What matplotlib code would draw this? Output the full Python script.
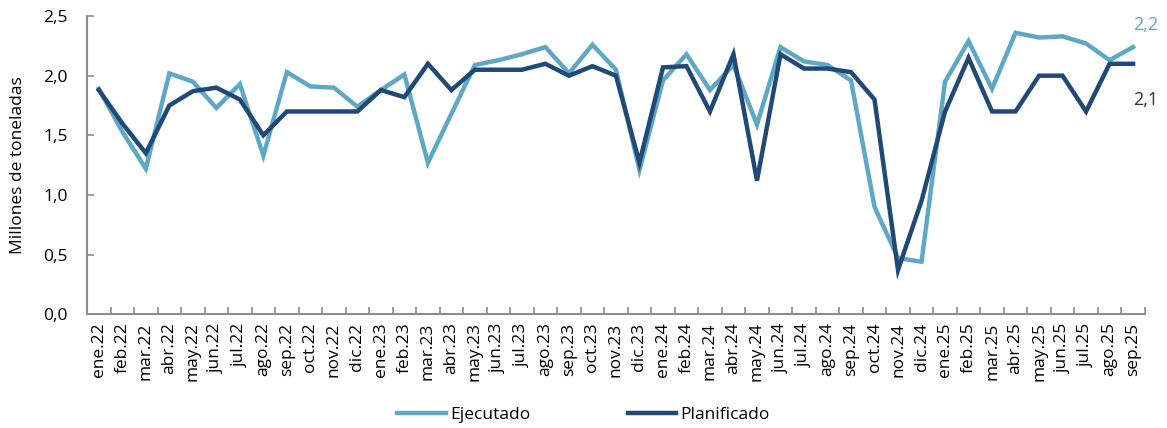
import matplotlib
matplotlib.use("Agg")
import matplotlib.pyplot as plt
import numpy as np

months = ["ene.22","feb.22","mar.22","abr.22","may.22","jun.22","jul.22","ago.22","sep.22","oct.22","nov.22","dic.22",
          "ene.23","feb.23","mar.23","abr.23","may.23","jun.23","jul.23","ago.23","sep.23","oct.23","nov.23","dic.23",
          "ene.24","feb.24","mar.24","abr.24","may.24","jun.24","jul.24","ago.24","sep.24","oct.24","nov.24","dic.24",
          "ene.25","feb.25","mar.25","abr.25","may.25","jun.25","jul.25","ago.25","sep.25"]

ejecutado = [1.89, 1.53, 1.22, 2.02, 1.95, 1.73, 1.93, 1.33, 2.03, 1.91, 1.90, 1.74,
             1.88, 2.01, 1.27, 1.68, 2.09, 2.13, 2.18, 2.24, 2.02, 2.26, 2.05, 1.21,
             1.96, 2.18, 1.88, 2.09, 1.59, 2.24, 2.12, 2.09, 1.96, 0.90, 0.47, 0.44,
             1.95, 2.29, 1.89, 2.36, 2.32, 2.33, 2.27, 2.13, 2.24]

planificado = [1.88, 1.60, 1.35, 1.75, 1.87, 1.90, 1.80, 1.50, 1.70, 1.70, 1.70, 1.70,
               1.88, 1.82, 2.10, 1.88, 2.05, 2.05, 2.05, 2.10, 2.00, 2.08, 2.00, 1.27,
               2.07, 2.08, 1.70, 2.18, 1.12, 2.18, 2.06, 2.06, 2.03, 1.80, 0.37, 0.95,
               1.70, 2.15, 1.70, 1.70, 2.00, 2.00, 1.70, 2.10, 2.10]

yticks = [0.0, 0.5, 1.0, 1.5, 2.0, 2.5]
ytick_labels = ["0,0", "0,5", "1,0", "1,5", "2,0", "2,5"]
end_labels = ["2,2", "2,1"]

c_light = "#5fa8c5"
c_dark = "#1f4a78"
axis_col = "#8c8c8c"

plt.rcParams['font.family'] = ['Open Sans', 'DejaVu Sans']
fs = 12.5

fig = plt.figure(figsize=(11.67, 4.28), dpi=100)
ax = fig.add_axes([0.0746, 0.266, 0.9064, 0.6964])

x = np.arange(len(months))
ax.plot(x, ejecutado, color=c_light, lw=3.2, solid_joinstyle='miter', label="Ejecutado")
ax.plot(x, planificado, color=c_dark, lw=3.2, solid_joinstyle='miter', label="Planificado")

ax.set_xlim(-0.5, len(months) - 0.5)
ax.set_ylim(0, 2.5)
ax.set_yticks(yticks)
ax.set_yticklabels(ytick_labels, fontsize=fs)
ax.set_xticks(x)
ax.set_xticklabels(months, rotation=90, fontsize=fs)
ax.set_xticks(np.arange(len(months) + 1) - 0.5, minor=True)
ax.tick_params(axis='x', which='major', length=0, pad=6)
ax.tick_params(axis='x', which='minor', length=5, color=axis_col, direction='in', width=1.2)
ax.tick_params(axis='y', length=5, color=axis_col, direction='in', width=1.2, pad=14)

for s in ['top', 'right']:
    ax.spines[s].set_visible(False)
for s in ['left', 'bottom']:
    ax.spines[s].set_color(axis_col)
    ax.spines[s].set_linewidth(1.5)

ax.set_ylabel("Millones de toneladas", fontsize=fs, labelpad=12)

ax.annotate(end_labels[0], xy=(x[-1], ejecutado[-1]), xytext=(0, 16), textcoords='offset points',
            color=c_light, fontsize=13, ha='left', va='center', annotation_clip=False)
ax.annotate(end_labels[1], xy=(x[-1], planificado[-1]), xytext=(0, -26), textcoords='offset points',
            color="#333333", fontsize=13, ha='left', va='center', annotation_clip=False)

fig.legend(loc='lower center', bbox_to_anchor=(0.5, -0.025), ncol=2, frameon=False,
           fontsize=fs, handlelength=2.8, columnspacing=5.6, handletextpad=0.25)

fig.savefig("out.png", dpi=100)
